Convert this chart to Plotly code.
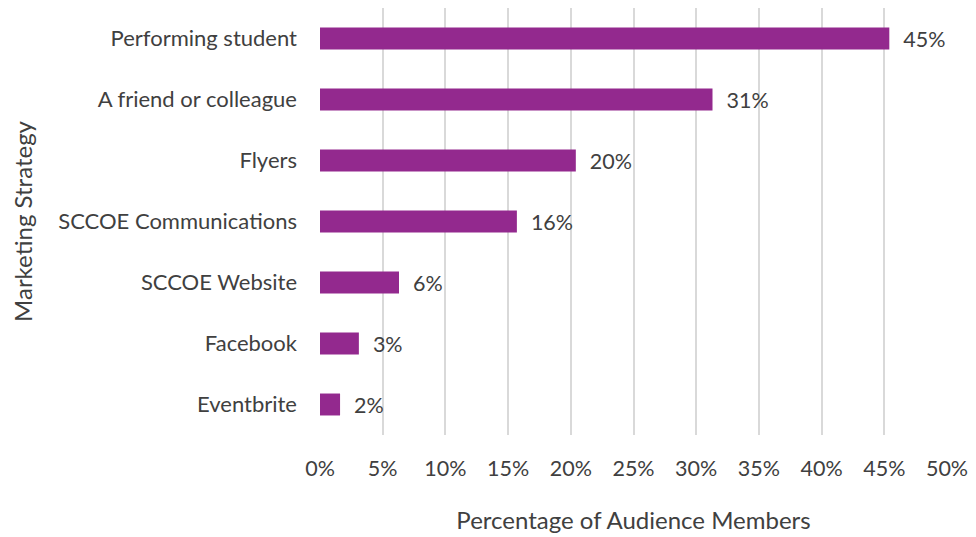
import plotly.graph_objects as go

# Marketing channels (bottom to top) and share of audience members (%)
strategies = ["Eventbrite", "Facebook", "SCCOE Website", "SCCOE Communications",
              "Flyers", "A friend or colleague", "Performing student"]
shares = [1.6, 3.1, 6.3, 15.7, 20.4, 31.3, 45.4]
x_ticks = [0, 5, 10, 15, 20, 25, 30, 35, 40, 45, 50]
x_tick_labels = [f"{v}%" for v in x_ticks]

font_family = "Lato, 'Open Sans', sans-serif"
text_color = "#404040"

fig = go.Figure(
    go.Bar(
        x=shares,
        y=strategies,
        orientation="h",
        marker=dict(color="#93298E", line=dict(width=0)),
        texttemplate="  %{x:.0f}%",
        textposition="outside",
        constraintext="none",
        textfont=dict(family=font_family, size=21.5, color=text_color),
        cliponaxis=False,
    )
)

fig.update_layout(
    width=976,
    height=537,
    margin=dict(l=320, r=25, t=8, b=102),
    paper_bgcolor="white",
    plot_bgcolor="white",
    bargap=0.64,
    showlegend=False,
    font=dict(family=font_family, size=22, color=text_color),
)

fig.update_xaxes(
    range=[0, 50],
    tickvals=x_ticks,
    ticktext=x_tick_labels,
    showgrid=True,
    gridcolor="#d9d9d9",
    gridwidth=1.5,
    zeroline=False,
    showline=False,
    ticks="",
    ticklabelstandoff=18,
    tickfont=dict(size=21.5, color=text_color),
    title=dict(text="Percentage of Audience Members", standoff=32,
               font=dict(size=24, color=text_color)),
)

fig.update_yaxes(
    showgrid=False,
    zeroline=False,
    showline=False,
    ticks="",
    ticklabelstandoff=22,
    tickfont=dict(size=22, color=text_color),
    title=dict(text="Marketing Strategy", standoff=18,
               font=dict(size=24, color=text_color)),
)

fig.write_html("out.html")
